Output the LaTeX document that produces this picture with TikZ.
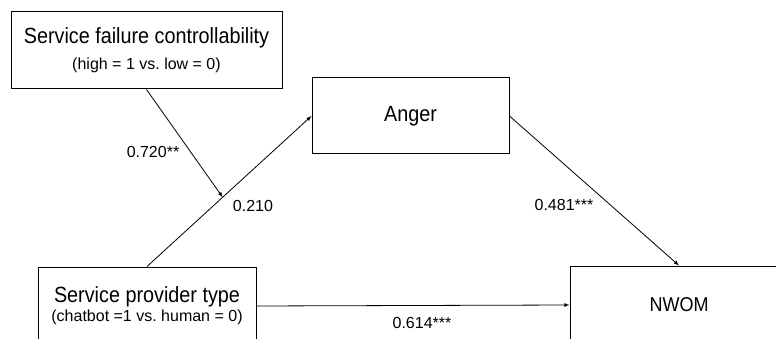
\documentclass[tikz,border=0pt]{standalone}
\usepackage{fontspec}
\setmainfont{Liberation Sans}
\newfontfamily\boxfont[FakeStretch=0.9]{Liberation Sans}
\usetikzlibrary{calc}

\tikzset{
	varbox/.style={shape=rectangle, draw, line width=1pt, align=center, minimum height=77pt, inner sep=0pt},
	bigtext/.style={font=\boxfont\fontsize{22}{26}\selectfont},
	coef/.style={font=\fontsize{16}{19}\selectfont},
	link/.style={-latex, line width=0.8pt}
}

\begin{document}
\begin{tikzpicture}[x=1pt, y=-1pt]
	\useasboundingbox (0,0) rectangle (776,339);
	% variables
	\node[varbox, minimum width=271pt](failure) at (146.5,50.5){{\boxfont\fontsize{22}{26}\selectfont Service failure controllability}\\[9pt]{\fontsize{16}{19}\selectfont (high = 1 vs.\ low = 0)}};
	\node[varbox, bigtext, minimum width=197pt, minimum height=76pt](anger) at (410.5,116){Anger};
	\node[varbox, minimum width=218pt, minimum height=78pt](provider) at (147,306){{\boxfont\fontsize{22}{26}\selectfont Service provider type}\\[2pt]{\fontsize{16}{19}\selectfont (chatbot =1 vs.\ human = 0)}};
	\node[varbox, bigtext, minimum width=218pt, minimum height=78pt](nwom) at (679,305){\fontsize{20}{24}\selectfont NWOM};
	% paths
	\coordinate (mod) at ($(provider.north)!0.46!(anger.west)$);
	\draw[link] (provider.north) -- (anger.west);
	\draw[link] (failure.south) -- (mod);
	\draw[link] (anger.east) -- (nwom.north);
	\draw[link] (provider.east) -- (nwom.west);
	% coefficients
	\node[coef](c1) at (153,152){0.720**};
	\node[coef](c2) at (253,206){0.210};
	\node[coef](c3) at (564,205){0.481***};
	\node[coef](c4) at (422,323){0.614***};
\end{tikzpicture}
\end{document}
